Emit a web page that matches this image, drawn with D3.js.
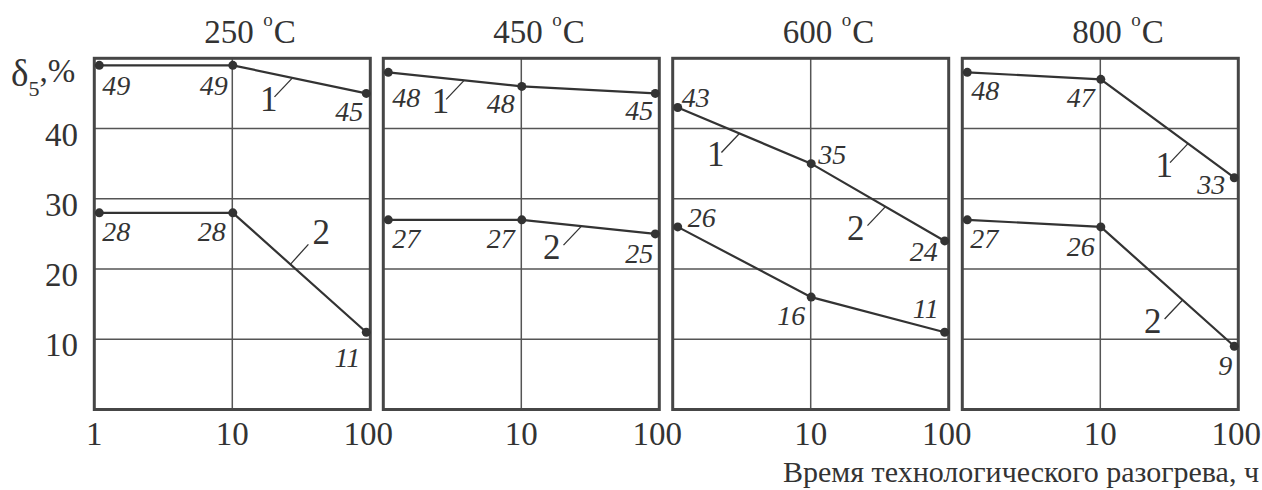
<!DOCTYPE html>
<html><head><meta charset="utf-8">
<script src="https://cdn.jsdelivr.net/npm/d3@7"></script>
<style>
html,body{margin:0;padding:0;background:#fff;}
svg{display:block;font-family:"Liberation Serif","Times New Roman",serif;}
</style></head>
<body>
<svg id="chart" width="1262" height="490"></svg>
<script>
// ---- data ----
const panelTemps = ["250", "450", "600", "800"];
const times = [1, 10, 100];
const series1 = [[49, 49, 45], [48, 46, 45], [43, 35, 24], [48, 47, 33]];
const series2 = [[28, 28, 11], [27, 27, 25], [26, 16, 11], [27, 26, 9]];
const labels1 = [["49", "49", "45"], ["48", "48", "45"], ["43", "35", "24"], ["48", "47", "33"]];
const labels2 = [["28", "28", "11"], ["27", "27", "25"], ["26", "16", "11"], ["27", "26", "9"]];
const yTicks = [10, 20, 30, 40];
const xTicksFirst = [1, 10, 100];
const xTicksOther = [10, 100];
const yLabel = "δ";
const xTitle = "Время технологического разогрева, ч";
// curve markers: panel, target series, time on curve, text
const curveMarks = [
  {p: 0, s: 0, t: 28, text: "1"}, {p: 0, s: 1, t: 27, text: "2", right: true},
  {p: 1, s: 0, t: 3.7, text: "1"}, {p: 1, s: 1, t: 28, text: "2"},
  {p: 2, s: 0, t: 2.9, text: "1"}, {p: 2, s: 0, t: 36, text: "2"},
  {p: 3, s: 0, t: 45, text: "1"}, {p: 3, s: 1, t: 41, text: "2"}
];

// ---- layout ----
const panelLeft = [94.3, 383.3, 672.7, 962.3];
const panelW = 276;
const plotTop = 58.3, plotBottom = 409.5;
const ink = "#333", frameCol = "#464646", gridCol = "#555";
// value-label offsets [dx, dy, anchor]
const lab1Off = [
  [[3, 29.5, "start"], [-5, 29.5, "end"], [-3, 27.5, "end"]],
  [[4, 35, "start"], [-7, 27, "end"], [-2, 27, "end"]],
  [[4, 0, "start"], [7, 0, "start"], [-7, 20, "end"]],
  [[4, 28, "start"], [-6, 28, "end"], [-9, 16, "end"]]
];
const lab2Off = [
  [[3, 28, "start"], [-7, 28, "end"], [-6, 35, "end"]],
  [[4, 28, "start"], [-7, 28, "end"], [-2, 29, "end"]],
  [[10, 0, "start"], [-6, 28, "end"], [-6, -14, "end"]],
  [[3, 28, "start"], [-6, 29, "end"], [-2, 29, "end"]]
];

const svg = d3.select("#chart");
const y = d3.scaleLinear().domain([0, 50]).range([plotBottom, plotTop]);

panelTemps.forEach((temp, i) => {
  const x0 = panelLeft[i];
  const xAxisScale = d3.scaleLog().domain([1, 100]).range([x0, x0 + panelW]);
  const xPt = d3.scaleLog().domain([1, 100]).range([x0 + 5, x0 + panelW - 4]);
  const g = svg.append("g");

  // grid
  g.selectAll("line.h").data(yTicks).join("line")
    .attr("x1", x0).attr("x2", x0 + panelW)
    .attr("y1", d => y(d)).attr("y2", d => y(d))
    .attr("stroke", gridCol).attr("stroke-width", 1.5);
  g.append("line")
    .attr("x1", xAxisScale(10)).attr("x2", xAxisScale(10))
    .attr("y1", plotTop).attr("y2", plotBottom)
    .attr("stroke", gridCol).attr("stroke-width", 1.5);
  // frame
  g.append("rect").attr("x", x0).attr("y", plotTop)
    .attr("width", panelW).attr("height", plotBottom - plotTop)
    .attr("fill", "none").attr("stroke", frameCol).attr("stroke-width", 3);

  // x tick labels
  const xt = i === 0 ? xTicksFirst : xTicksOther;
  g.selectAll("text.xt").data(xt).join("text")
    .attr("x", d => d === 100 ? xAxisScale(d) - 2 : xAxisScale(d))
    .attr("y", 445).attr("text-anchor", "middle")
    .attr("font-size", 33).attr("fill", ink).text(d => d);

  // title: "250 °C"
  const cx = x0 + panelW / 2;
  const tt = g.append("text").attr("x", cx - 28).attr("y", 43).attr("font-size", 33).attr("fill", ink);
  tt.append("tspan").text(temp);
  tt.append("tspan").attr("x", cx + 31).attr("dy", -17.5).attr("font-size", 19).text("o");
  tt.append("tspan").attr("x", cx + 41.5).attr("dy", 17.5).text("C");

  // series
  const line = d3.line().x(d => xPt(d[0])).y(d => y(d[1]));
  [[series1[i], labels1[i], lab1Off[i]], [series2[i], labels2[i], lab2Off[i]]].forEach(([vals, labs, offs]) => {
    const pts = times.map((t, k) => [t, vals[k]]);
    g.append("path").datum(pts).attr("d", line)
      .attr("fill", "none").attr("stroke", ink).attr("stroke-width", 2.2);
    g.selectAll(null).data(pts).join("circle")
      .attr("cx", d => xPt(d[0])).attr("cy", d => y(d[1])).attr("r", 4.5).attr("fill", ink);
    g.selectAll(null).data(pts).join("text")
      .attr("x", (d, k) => xPt(d[0]) + offs[k][0])
      .attr("y", (d, k) => y(d[1]) + offs[k][1])
      .attr("text-anchor", (d, k) => offs[k][2])
      .attr("font-size", 28).attr("font-style", "italic").attr("fill", ink)
      .text((d, k) => labs[k]);
  });

  // curve markers
  curveMarks.filter(m => m.p === i).forEach(m => {
    const vals = m.s === 0 ? series1[i] : series2[i];
    const lt = Math.log10(m.t);
    const k = lt < 1 ? 0 : 1;
    const f = lt - k;
    const v = vals[k] + (vals[k + 1] - vals[k]) * f;
    const px = xPt(m.t), py = y(v);
    if (m.right) {
      const ux = px + 18, uy = py - 20;
      g.append("line").attr("x1", px).attr("y1", py).attr("x2", ux).attr("y2", uy)
        .attr("stroke", ink).attr("stroke-width", 1.3);
      g.append("text").attr("x", ux + 4).attr("y", uy).attr("font-size", 35)
        .attr("fill", ink).text(m.text);
    } else {
      const lx = px - 18, ly = py + 19;
      g.append("line").attr("x1", px).attr("y1", py).attr("x2", lx).attr("y2", ly)
        .attr("stroke", ink).attr("stroke-width", 1.3);
      g.append("text").attr("x", m.text === "1" ? lx + 3 : lx - 3).attr("y", ly + 14)
        .attr("text-anchor", "end").attr("font-size", 35)
        .attr("fill", ink).text(m.text);
    }
  });
});

// y tick labels
svg.selectAll("text.yt").data(yTicks).join("text")
  .attr("x", 78).attr("y", d => y(d) + 17).attr("text-anchor", "end")
  .attr("font-size", 33).attr("fill", ink).text(d => d);

// y label δ5,%
const yl = svg.append("text").attr("x", 11).attr("y", 86).attr("fill", ink);
yl.append("tspan").attr("font-size", 37).text(yLabel);
yl.append("tspan").attr("font-size", 22).attr("dy", 10).text("5");
yl.append("tspan").attr("font-size", 33).attr("dy", -14).text(",%");

// x title
svg.append("text").attr("x", 1259).attr("y", 482).attr("text-anchor", "end")
  .attr("font-size", 30).attr("fill", ink).text(xTitle);
</script>
</body></html>
